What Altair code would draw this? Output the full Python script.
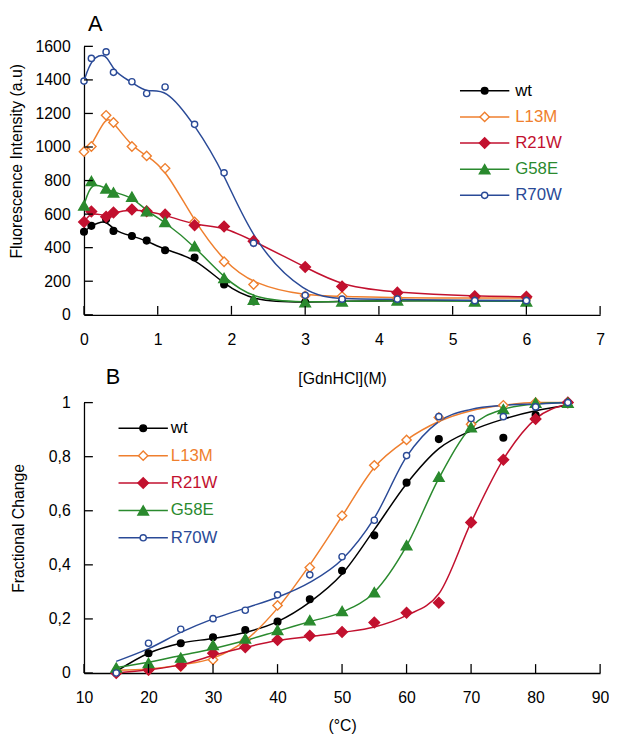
import altair as alt
import pandas as pd

FONT = "Liberation Sans"

series = ["wt", "L13M", "R21W", "G58E", "R70W"]
colors = ["#000000", "#EF7F2E", "#C2112F", "#2A8A2E", "#2A4A97"]
fills = ["#000000", "#FFFFFF", "#C2112F", "#2A8A2E", "#FFFFFF"]
shapes = ["circle", "diamond", "diamond", "triangle-up", "circle"]
sizes = [46, 90, 115, 115, 40]

# Panel A: fluorescence vs [GdnHCl] (measured points)
gdn = [0, 0.1, 0.3, 0.4, 0.65, 0.85, 1.1, 1.5, 1.9, 2.3, 3.0, 3.5, 4.25, 5.3, 6.0]
wt_A = [495, 530, 570, 500, 470, 442, 385, 341, 180, 80, 75, 80, 85, 85, 85]
l13m_A = [972, 1003, 1189, 1146, 1003, 947, 873, 553, 316, 180, 113, 110, 100, 100, 100]
r21w_A = [553, 615, 584, 609, 628, 617, 597, 533, 526, 439, 285, 169, 132, 111, 107]
g58e_A = [652, 797, 753, 729, 704, 617, 553, 409, 219, 90, 75, 80, 85, 80, 80]
r70w_A = [1393, 1528, 1567, 1445, 1389, 1319, 1358, 1135, 846, 427, 116, 93, 93, 84, 84]

# Panel B: fractional change vs temperature (measured points)
temp = [15, 20, 25, 30, 35, 40, 45, 50, 55, 60, 65, 70, 75, 80, 85]
wt_B = [0, 0.073, 0.11, 0.132, 0.159, 0.19, 0.273, 0.378, 0.509, 0.704, 0.865, 0.92, 0.87, 0.954, 1.0]
l13m_B = [0, 0.01, 0.025, 0.049, 0.12, 0.25, 0.39, 0.582, 0.768, 0.862, 0.945, 0.92, 0.99, 1.0, 1.0]
r21w_B = [0, 0.012, 0.028, 0.073, 0.095, 0.122, 0.138, 0.152, 0.187, 0.223, 0.26, 0.557, 0.789, 0.939, 1.0]
g58e_B = [0.02, 0.037, 0.057, 0.104, 0.128, 0.159, 0.195, 0.229, 0.299, 0.473, 0.726, 0.909, 0.976, 1.0, 1.0]
r70w_B = [0, 0.11, 0.162, 0.201, 0.232, 0.289, 0.363, 0.43, 0.565, 0.804, 0.948, 0.941, 0.948, 0.984, 1.0]

# Panel B: fitted curves at the same temperatures
wt_Bfit = [0.006, 0.073, 0.11, 0.128, 0.15, 0.19, 0.262, 0.366, 0.53, 0.70, 0.83, 0.896, 0.939, 0.97, 0.99]
l13m_Bfit = [0.01, 0.015, 0.03, 0.055, 0.12, 0.24, 0.40, 0.58, 0.76, 0.862, 0.93, 0.97, 0.99, 1.0, 1.0]
r21w_Bfit = [0.0, 0.012, 0.03, 0.065, 0.095, 0.12, 0.135, 0.15, 0.17, 0.213, 0.293, 0.557, 0.79, 0.94, 0.995]
g58e_Bfit = [0.02, 0.04, 0.065, 0.09, 0.12, 0.155, 0.19, 0.225, 0.299, 0.47, 0.72, 0.91, 0.975, 0.995, 1.0]
r70w_Bfit = [0.043, 0.09, 0.15, 0.20, 0.24, 0.28, 0.335, 0.42, 0.573, 0.80, 0.93, 0.975, 0.99, 0.995, 1.0]

xticks_A = [0, 1, 2, 3, 4, 5, 6, 7]
yticks_A = [0, 200, 400, 600, 800, 1000, 1200, 1400, 1600]
xticks_B = [10, 20, 30, 40, 50, 60, 70, 80, 90]
yticks_B = [0, 0.2, 0.4, 0.6, 0.8, 1.0]


def long_df(xs, ys_list):
    rows = []
    for name, ys in zip(series, ys_list):
        for xv, yv in zip(xs, ys):
            rows.append({"series": name, "x": xv, "y": yv})
    return pd.DataFrame(rows)


dfA = long_df(gdn, [wt_A, l13m_A, r21w_A, g58e_A, r70w_A])
dfB = long_df(temp, [wt_B, l13m_B, r21w_B, g58e_B, r70w_B])
dfBfit = long_df(temp, [wt_Bfit, l13m_Bfit, r21w_Bfit, g58e_Bfit, r70w_Bfit])
legend_df = pd.DataFrame({"series": series, "row": list(range(len(series)))})

color_scale = alt.Scale(domain=series, range=colors)
fill_scale = alt.Scale(domain=series, range=fills)
shape_scale = alt.Scale(domain=series, range=shapes)
size_scale = alt.Scale(type="ordinal", domain=series, range=sizes)


def panel(df, df_line, interp, xdom, ydom, xticks, yticks, xtitle, ytitle, ylabel_expr, yformat,
          width, height, title, title_dx, title_off, ytitle_pad, ytitle_y, xtitle_pad,
          leg_x0, leg_x1, leg_sym, leg_text, leg_y0, leg_y1):
    xaxis = alt.Axis(values=xticks, title=xtitle, ticks=False, grid=False,
                     labelFlush=False, labelOverlap=False,
                     labelPadding=17, titlePadding=xtitle_pad, format="d")
    yaxis_kw = dict(values=yticks, title=ytitle, ticks=False, grid=False,
                    labelFlush=False, labelOverlap=False, labelPadding=14,
                    titlePadding=ytitle_pad, titleY=ytitle_y)
    if ylabel_expr:
        yaxis_kw["labelExpr"] = ylabel_expr
    if yformat:
        yaxis_kw["format"] = yformat
    yaxis = alt.Axis(**yaxis_kw)
    xs = alt.Scale(domain=xdom, nice=False, zero=False)
    ys = alt.Scale(domain=ydom, nice=False, zero=False)
    x_enc = alt.X("x:Q", scale=xs, axis=xaxis, title=xtitle)
    y_enc = alt.Y("y:Q", scale=ys, axis=yaxis, title=ytitle)

    lines = alt.Chart(df_line).mark_line(interpolate=interp, strokeWidth=1.5).encode(
        x=x_enc, y=y_enc,
        color=alt.Color("series:N", scale=color_scale, legend=None),
    )
    pts = alt.Chart(df).mark_point(opacity=1, strokeWidth=1.4).encode(
        x=x_enc, y=y_enc,
        shape=alt.Shape("series:N", scale=shape_scale, legend=None),
        fill=alt.Fill("series:N", scale=fill_scale, legend=None),
        stroke=alt.Stroke("series:N", scale=color_scale, legend=None),
        size=alt.Size("series:N", scale=size_scale, legend=None),
    )
    xt = alt.Chart(pd.DataFrame({"x": xticks})).mark_rule(color="black", strokeWidth=1.3).encode(
        x=x_enc, y=alt.value(height), y2=alt.value(height - 9))
    yt = alt.Chart(pd.DataFrame({"y": yticks})).mark_rule(color="black", strokeWidth=1.3).encode(
        y=y_enc, x=alt.value(0), x2=alt.value(9))
    inner = alt.layer(lines, pts, xt, yt)

    row_y = alt.Y("row:O", scale=alt.Scale(type="point", range=[leg_y0, leg_y1], padding=0), axis=None)
    lrule = alt.Chart(legend_df).mark_rule(strokeWidth=1.5).encode(
        y=row_y, x=alt.value(leg_x0), x2=alt.value(leg_x1),
        color=alt.Color("series:N", scale=color_scale, legend=None))
    lpts = alt.Chart(legend_df).mark_point(opacity=1, strokeWidth=1.4).encode(
        y=row_y, x=alt.value(leg_sym),
        shape=alt.Shape("series:N", scale=shape_scale, legend=None),
        fill=alt.Fill("series:N", scale=fill_scale, legend=None),
        stroke=alt.Stroke("series:N", scale=color_scale, legend=None),
        size=alt.Size("series:N", scale=size_scale, legend=None))
    ltext = alt.Chart(legend_df).mark_text(align="left", baseline="middle", fontSize=17, font=FONT).encode(
        y=row_y, x=alt.value(leg_text), text="series:N",
        color=alt.Color("series:N", scale=color_scale, legend=None))

    return alt.layer(inner, lrule, lpts, ltext).resolve_scale(y="independent").properties(
        width=width, height=height,
        title=alt.TitleParams(title, anchor="start", frame="group", dx=title_dx, offset=title_off,
                              fontSize=22, fontWeight="normal", font=FONT, color="black"))


W = 523
chartA = panel(dfA, dfA, "basis", [0, 7], [0, 1600], xticks_A, yticks_A, "[GdnHCl](M)",
               "Fluorescence Intensity (a.u)", None, "d", W, 272, "A", 4, 3, 11, 116, 24,
               381, 431, 406, 437, 45, 151)
chartB = panel(dfB, dfBfit, "monotone", [10, 90], [0, 1], xticks_B, yticks_B, "(°C)", "Fractional Change",
               "replace(toString(datum.value), '.', ',')", None, W, 274, "B", 22, 6, 22, 127, 12,
               35, 85, 60, 88, 26, 137)

chart = alt.vconcat(chartA, chartB, spacing=89, bounds="flush").properties(
    padding=0
).configure_view(stroke=None).configure_axis(
    domainColor="black", domainWidth=1.3, labelColor="black", titleColor="black",
    labelFont=FONT, titleFont=FONT, labelFontSize=16, titleFontSize=16,
    titleFontWeight="normal", labelOverlap=False
)

chart.save("out.html", embed_options={"renderer": "svg", "actions": False})
